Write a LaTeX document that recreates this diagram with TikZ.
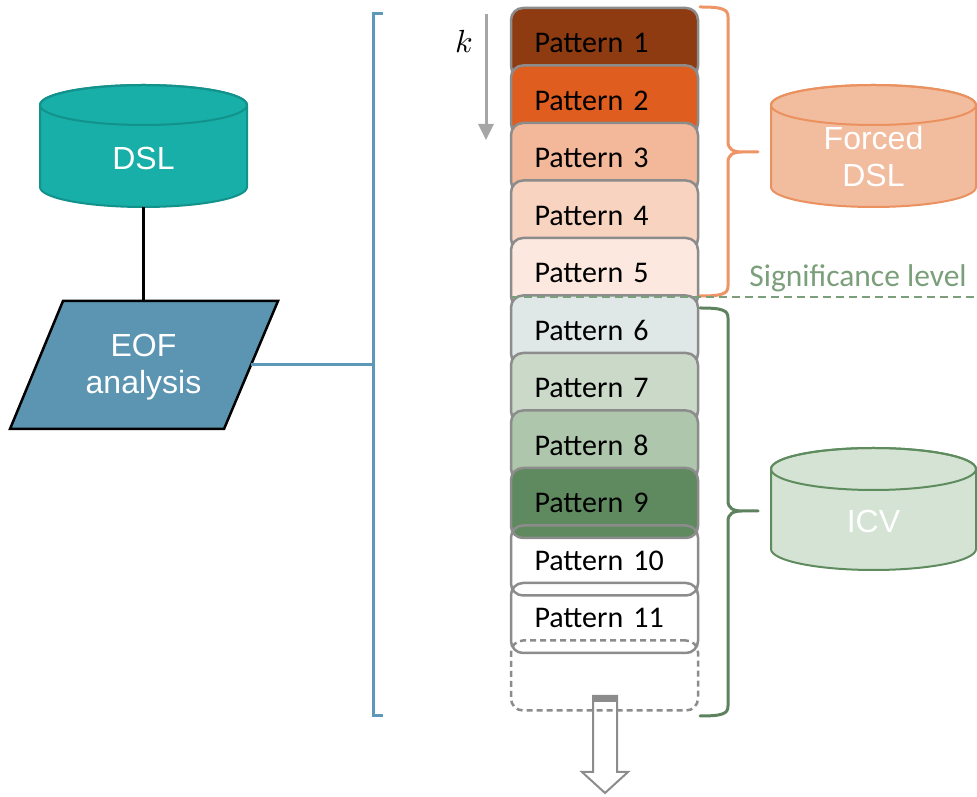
\documentclass[tikz,border=0pt]{standalone}
\usepackage{fontspec}
\setmainfont{Carlito}
\newfontfamily\arialf{Liberation Sans}
\usetikzlibrary{arrows.meta}
\definecolor{p1}{HTML}{8E3B12}
\definecolor{p2}{HTML}{DF5D1E}
\definecolor{p3}{HTML}{F3B89A}
\definecolor{p4}{HTML}{F8D3BF}
\definecolor{p5}{HTML}{FCE8DE}
\definecolor{p6}{HTML}{DFE8E6}
\definecolor{p7}{HTML}{CAD9C8}
\definecolor{p8}{HTML}{ADC6AC}
\definecolor{p9}{HTML}{5F8A5F}
\definecolor{patgray}{HTML}{8C8C8C}
\definecolor{kgray}{HTML}{A6A6A6}
\definecolor{dslfill}{HTML}{17AFA7}
\definecolor{dslline}{HTML}{13928B}
\definecolor{eoffill}{HTML}{5B95B1}
\definecolor{bluebr}{HTML}{5E98B8}
\definecolor{forfill}{HTML}{F2BC9E}
\definecolor{forline}{HTML}{EA915F}
\definecolor{icvfill}{HTML}{D4E3D3}
\definecolor{icvline}{HTML}{5F8C5F}
\definecolor{orangeb}{HTML}{EE9465}
\definecolor{greenb}{HTML}{5E825E}
\definecolor{siggreen}{HTML}{7A9F7A}
\begin{document}
\begin{tikzpicture}[x=1pt,y=1pt,
  pat/.style={draw=patgray, line width=2.5pt, rounded corners=12pt,
    minimum width=187pt, minimum height=70pt, text width=140pt,
    align=left, inner xsep=23.5pt, inner ysep=0pt,
    font=\fontsize{30}{34}\selectfont},
  cylbody/.style={line width=2pt},
  wtext/.style={text=white, align=center, font=\arialf\fontsize{32}{37}\selectfont},
  brace/.style={line width=3pt, line cap=round},
]
\useasboundingbox (0,0) rectangle (977,797);

% ---------- DSL cylinder ----------
\filldraw[cylbody, fill=dslfill, draw=dslline]
  (40,692) -- (40,610) arc[start angle=180, end angle=360, x radius=103.5, y radius=20]
  -- (247,692) arc[start angle=0, end angle=180, x radius=103.5, y radius=20] -- cycle;
\draw[cylbody, dslline] (143.5,692) ellipse[x radius=103.5, y radius=20];
\node[wtext] (dsl) at (143.5,639) {DSL};
\coordinate (dslbot) at (143.5,590);

% ---------- EOF parallelogram ----------
\filldraw[fill=eoffill, draw=black, line width=2.5pt, line join=miter]
  (63,496) -- (278,496) -- (224,368) -- (10,368) -- cycle;
\node[wtext] (eof) at (143.5,430) {EOF\\analysis};
\coordinate (eoftop) at (143.5,496);
\coordinate (eofright) at (251,432);
\draw[line width=3pt] (dslbot) -- (eoftop);

% ---------- blue bracket ----------
\coordinate (brk) at (373,432);
\draw[bluebr, line width=3pt] (383,783) -- (373,783) -- (373,81) -- (383,81);
\draw[bluebr, line width=3pt] (eofright) -- (brk);

% ---------- k arrow ----------
\coordinate (ktop) at (486,783);
\coordinate (kbot) at (486,657);
\draw[kgray, line width=3pt, -{Triangle[length=16pt,width=15pt]}] (ktop) -- (kbot);
\node[scale=3.2] (klab) at (464,756) {$k$};

% ---------- down hollow arrow ----------
\coordinate (arrtop) at (605,101);
\filldraw[fill=white, draw=patgray, line width=2pt, line join=miter]
  (593,101) -- (593,25) -- (582,25) -- (605,4) -- (628,25) -- (617,25) -- (617,101) -- cycle;
\fill[patgray] (593,101) rectangle (617,95);

% ---------- pattern stack ----------
\foreach \i in {1,...,9} {
  \node[pat, fill=p\i] (pat\i) at (604.5,{754-57.5*(\i-1)}) {Pattern \i};
}
\foreach \i in {10,11} {
  \node[pat] (pat\i) at (604.5,{754-57.5*(\i-1)}) {Pattern \i};
}
\node[pat, dash pattern=on 6pt off 4pt] (patmore) at (604.5,121.5) {};

% ---------- braces ----------
\draw[brace, orangeb]
  (700,790) .. controls (722,790) and (728,788) .. (728,780) -- (728,655)
  .. controls (728,648) and (733,645) .. (742,645) -- (758,645)
  (742,645) .. controls (733,645) and (728,642) .. (728,635) -- (728,511)
  .. controls (728,503) and (722,501) .. (700,501);
\draw[brace, greenb]
  (700,489) .. controls (722,489) and (728,487) .. (728,479) -- (728,296)
  .. controls (728,289) and (733,286) .. (742,286) -- (758,286)
  (742,286) .. controls (733,286) and (728,283) .. (728,276) -- (728,91)
  .. controls (728,83) and (722,81) .. (700,81);

% ---------- significance level ----------
\coordinate (sigL) at (511,500);
\coordinate (sigR) at (977,500);
\draw[siggreen, line width=2pt, dash pattern=on 8pt off 5pt] (sigL) -- (sigR);
\node[text=siggreen, font=\fontsize{31.5}{34}\selectfont] (sig) at (858,519) {Significance level};

% ---------- Forced DSL cylinder ----------
\filldraw[cylbody, fill=forfill, draw=forline]
  (771,692) -- (771,610) arc[start angle=180, end angle=360, x radius=102.5, y radius=20]
  -- (976,692) arc[start angle=0, end angle=180, x radius=102.5, y radius=20] -- cycle;
\draw[cylbody, forline] (873.5,692) ellipse[x radius=102.5, y radius=20];
\node[wtext] (forced) at (873.5,640) {Forced\\DSL};

% ---------- ICV cylinder ----------
\filldraw[cylbody, fill=icvfill, draw=icvline]
  (771,328) -- (771,248) arc[start angle=180, end angle=360, x radius=102.5, y radius=21]
  -- (976,328) arc[start angle=0, end angle=180, x radius=102.5, y radius=21] -- cycle;
\draw[cylbody, icvline] (873.5,328) ellipse[x radius=102.5, y radius=21];
\node[wtext] (icv) at (873.5,276) {ICV};
\end{tikzpicture}
\end{document}
